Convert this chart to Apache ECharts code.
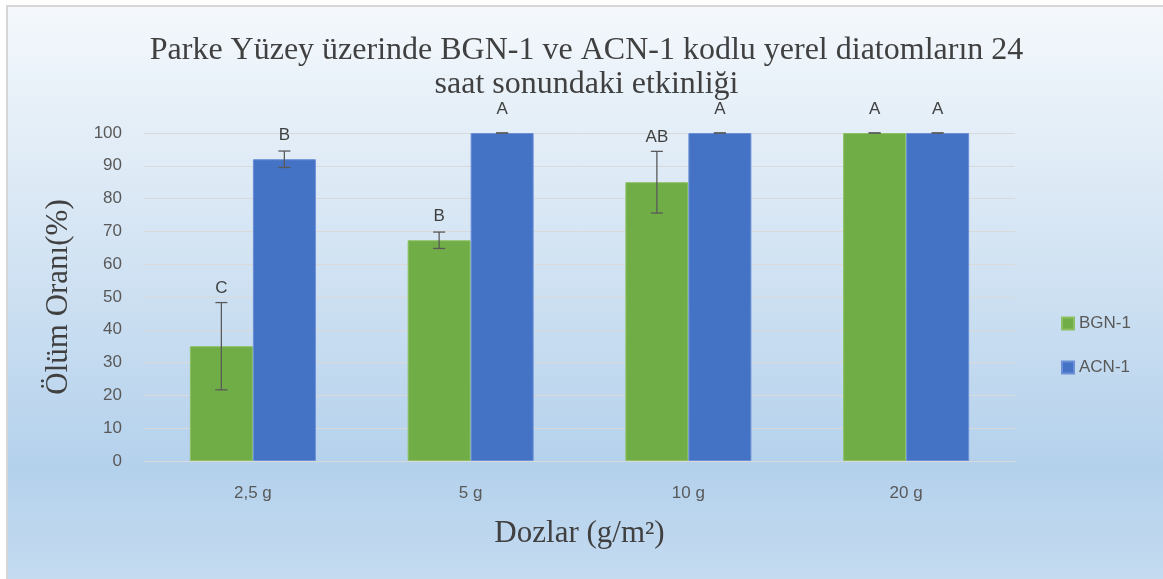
<!DOCTYPE html>
<html>
<head>
<meta charset="utf-8">
<script src="https://cdn.jsdelivr.net/npm/echarts@6/dist/echarts.min.js"></script>
<style>
  html, body { margin: 0; padding: 0; background: #fff; overflow: hidden; }
  #chart {
    position: absolute; left: 6px; top: 5px; width: 1157px; height: 574px;
    border-left: 2px solid #d6d6d6; border-top: 2px solid #d6d6d6;
  }
</style>
</head>
<body>
<div id="chart"></div>
<script>
const doses = ['2,5 g', '5 g', '10 g', '20 g']
const bgnValues = [35, 67.3, 85, 100]
const bgnErrors = [13.3, 2.5, 9.4, 0]
const bgnLetters = ['C', 'B', 'AB', 'A']
const acnValues = [92, 100, 100, 100]
const acnErrors = [2.5, 0, 0, 0]
const acnLetters = ['B', 'A', 'A', 'A']
const yTicks = { min: 0, max: 100, interval: 10 }

const BAR_W = 63
const serif = '"Liberation Serif", "DejaVu Serif", serif'
const sans = '"Liberation Sans Narrow", "Liberation Sans", sans-serif'

const chart = echarts.init(document.getElementById('chart'))

// error bar + significance letter, shifted left/right onto its bar
const errorSeries = (values, errors, letters, shift) => ({
  type: 'custom',
  silent: true,
  z: 5,
  data: values.map((v, i) => [i, v, errors[i]]),
  renderItem: (params, api) => {
    const i = api.value(0), v = api.value(1), e = api.value(2)
    const x = api.coord([i, v])[0] + shift
    const yTop = api.coord([i, v + e])[1]
    const yBot = api.coord([i, v - e])[1]
    const yBar = api.coord([i, v])[1]
    const style = { stroke: '#595959', lineWidth: 1.3 }
    const labelY = Math.min(yTop - 14, yBar - 24)
    return {
      type: 'group',
      children: [
        { type: 'line', shape: { x1: x, y1: yTop, x2: x, y2: yBot }, style },
        { type: 'line', shape: { x1: x - 6, y1: yTop, x2: x + 6, y2: yTop }, style },
        { type: 'line', shape: { x1: x - 6, y1: yBot, x2: x + 6, y2: yBot }, style },
        {
          type: 'text',
          style: {
            x, y: labelY, text: letters[params.dataIndex],
            align: 'center', verticalAlign: 'middle',
            fill: '#404040', font: '17px ' + sans
          }
        }
      ]
    }
  }
})

chart.setOption({
  animation: false,
  backgroundColor: {
    type: 'linear', x: 0, y: 0, x2: 0, y2: 1,
    colorStops: [
      { offset: 0, color: '#f4f8fc' },
      { offset: 0.38, color: '#d7e6f4' },
      { offset: 0.8, color: '#b4d1ec' },
      { offset: 1, color: '#c4dbf0' }
    ]
  },
  title: {
    text: 'Parke Yüzey üzerinde BGN-1 ve ACN-1 kodlu yerel diatomların 24\nsaat sonundaki etkinliği',
    left: 'center',
    top: 22,
    textStyle: {
      fontFamily: serif, fontSize: 32, fontWeight: 'normal',
      color: '#404040', lineHeight: 34
    }
  },
  legend: {
    orient: 'vertical',
    left: 1048,
    top: 303,
    itemWidth: 12,
    itemHeight: 12,
    itemGap: 27,
    icon: 'rect',
    data: ['BGN-1', 'ACN-1'],
    textStyle: { fontFamily: sans, fontSize: 17, color: '#595959' }
  },
  grid: { left: 136, right: 150, top: 126, bottom: 120 },
  xAxis: {
    type: 'category',
    data: doses,
    name: 'Dozlar (g/m²)',
    nameLocation: 'middle',
    nameGap: 57,
    nameTextStyle: { fontFamily: serif, fontSize: 31, color: '#404040' },
    axisTick: { show: false },
    axisLine: { lineStyle: { color: '#d9d9d9', width: 1 } },
    axisLabel: { margin: 24, fontFamily: sans, fontSize: 17, color: '#595959' }
  },
  yAxis: {
    type: 'value',
    min: yTicks.min,
    max: yTicks.max,
    interval: yTicks.interval,
    name: 'Ölüm Oranı(%)',
    nameLocation: 'middle',
    nameGap: 70,
    nameTextStyle: { fontFamily: serif, fontSize: 31, color: '#404040' },
    axisLine: { show: false },
    axisTick: { show: false },
    splitLine: { lineStyle: { color: '#d9d9d9', width: 1 } },
    axisLabel: { margin: 22, fontFamily: sans, fontSize: 17, color: '#595959' }
  },
  series: [
    {
      name: 'BGN-1', type: 'bar', data: bgnValues,
      barWidth: BAR_W, barGap: '0%',
      itemStyle: { color: '#70ad47', borderColor: '#8cc063', borderWidth: 1 }
    },
    {
      name: 'ACN-1', type: 'bar', data: acnValues,
      barWidth: BAR_W, barGap: '0%',
      itemStyle: { color: '#4472c4', borderColor: '#6a8fd6', borderWidth: 1 }
    },
    errorSeries(bgnValues, bgnErrors, bgnLetters, -BAR_W / 2),
    errorSeries(acnValues, acnErrors, acnLetters, BAR_W / 2)
  ]
})

window.addEventListener('resize', () => chart.resize())
</script>
</body>
</html>
